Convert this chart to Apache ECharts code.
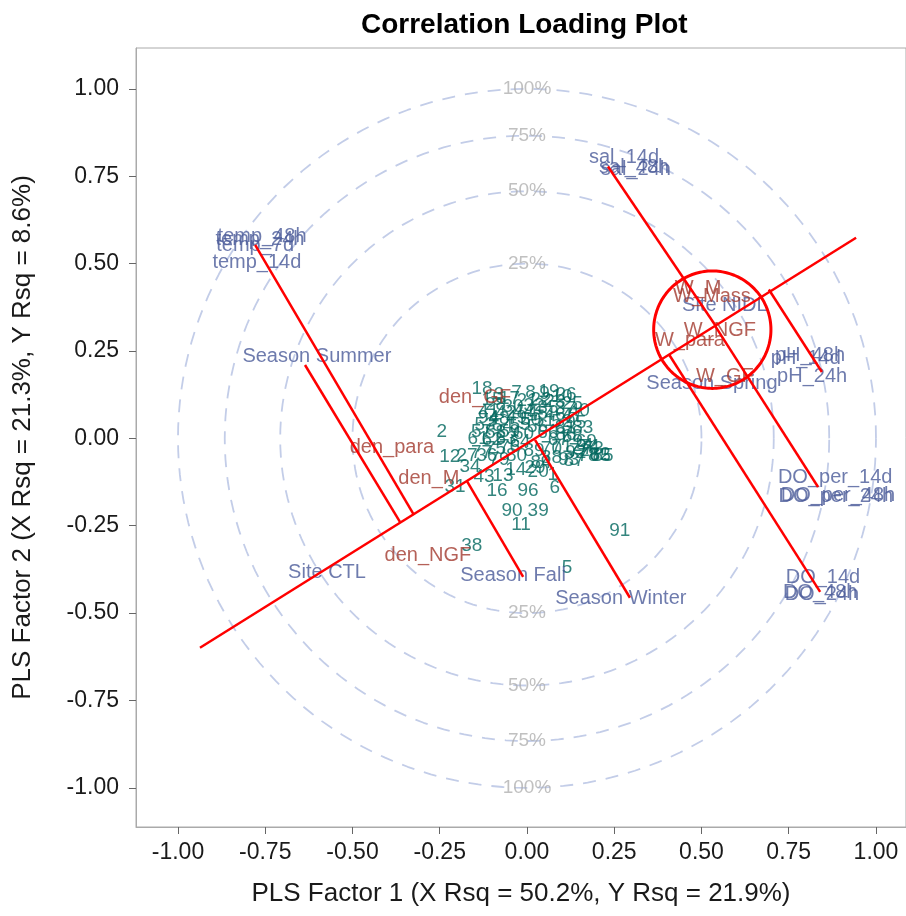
<!DOCTYPE html>
<html><head><meta charset="utf-8">
<script src="https://cdn.jsdelivr.net/npm/echarts@6/dist/echarts.min.js"></script>
<style>html,body{margin:0;padding:0;background:#fff}#c{width:906px;height:916px}</style>
</head><body><div id="c"></div>
<script>
// ---- tick values / reference circles ----
const tickValues = [-1, -0.75, -0.5, -0.25, 0, 0.25, 0.5, 0.75, 1];
const circlePct = [25, 50, 75, 100];

// ---- X-variable loadings (blue) ----
const xVarNames = ["temp_48h","temp_24h","temp_7d","temp_14d","sal_14d","sal_48h","sal_24h",
  "pH_48h","pH_14d","pH_24h","DO_per_14d","DO_per_48h","DO_per_24h","DO_14d","DO_48h","DO_24h",
  "Site NIDL","Season Spring","Season Summer","Site CTL","Season Fall","Season Winter"];
const xVarX = [-0.759,-0.765,-0.779,-0.774,0.278,0.307,0.312,
  0.811,0.799,0.817,0.883,0.891,0.885,0.848,0.840,0.845,
  0.567,0.530,-0.602,-0.573,-0.040,0.269];
const xVarY = [0.577,0.568,0.551,0.502,0.805,0.774,0.768,
  0.236,0.230,0.176,-0.113,-0.162,-0.167,-0.399,-0.442,-0.448,
  0.379,0.156,0.233,-0.385,-0.391,-0.459];

// ---- Y-variable loadings (red) ----
const yVarNames = ["den_GF","den_para","den_M","den_NGF","W_M","W_Mass","W_NGF","W_para","W_GF"];
const yVarX = [-0.149,-0.387,-0.281,-0.284,0.490,0.530,0.553,0.467,0.567];
const yVarY = [0.116,-0.027,-0.116,-0.336,0.428,0.405,0.310,0.279,0.176];

// ---- observations (green) ----
const obsNames = ["18","19","26","2","12","27","36","34","31","43","13","14","29","20","16","96","6","1",
  "90","39","11","91","38","5","86","74","82","85","87","78","24","92",
  "3","7","8","9","10","15","17","21","22","23","25","28","30","32","35","37","40",
  "41","42","44","45","46","47","48","49","50","51","52","53","54","55","56",
  "57","58","59","60","61","62","63","64","65","66","67","68","69","70","71","72","73",
  "75","76","77","79","80","81","83","84","88","89","93","94","95"];
const obsX = [-0.129,0.063,0.112,-0.244,-0.221,-0.172,-0.115,-0.163,-0.206,-0.123,-0.069,-0.032,0.023,0.032,-0.086,0.003,0.080,0.074,
  -0.043,0.032,-0.017,0.266,-0.158,0.115,0.112,0.178,0.209,0.218,0.135,0.175,0.160,0.140,
  -0.08,-0.03,0.01,0.05,0.10,-0.10,-0.05,0.00,0.04,0.08,0.13,-0.09,-0.04,0.02,0.06,0.11,0.15,
  -0.11,-0.06,-0.01,0.03,0.08,0.13,-0.08,-0.03,0.01,0.05,0.10,-0.12,-0.07,-0.02,0.03,
  -0.13,-0.09,-0.05,-0.01,-0.14,-0.10,-0.06,-0.02,0.21,0.06,0.09,0.13,0.17,0.07,0.10,0.15,0.19,
  -0.09,-0.05,-0.13,-0.08,-0.03,0.11,0.16,0.04,0.07,0.02,0.12,-0.11,0.14];
const obsY = [0.142,0.133,0.124,0.019,-0.053,-0.050,-0.050,-0.082,-0.139,-0.110,-0.107,-0.090,-0.084,-0.096,-0.150,-0.150,-0.142,-0.104,
  -0.207,-0.207,-0.247,-0.265,-0.308,-0.371,0.010,-0.024,-0.047,-0.050,-0.064,-0.050,-0.020,-0.040,
  0.125,0.130,0.130,0.128,0.120,0.110,0.112,0.108,0.110,0.105,0.100,0.095,0.090,0.092,0.088,0.085,0.080,
  0.075,0.072,0.075,0.070,0.068,0.065,0.055,0.058,0.052,0.050,0.048,0.040,0.035,0.038,0.032,
  0.020,0.015,0.018,0.012,0.000,-0.005,0.000,-0.010,-0.050,0.015,-0.005,0.005,-0.010,-0.030,-0.025,-0.035,-0.030,
  -0.030,-0.025,-0.040,-0.060,-0.050,0.030,0.030,-0.070,-0.055,-0.035,-0.060,0.060,0.045];

// ---- red annotation segments (start x, start y, end x, end y) ----
const segX1 = [-0.937,-0.779,-0.636,-0.172,0.023,0.232,0.845,0.834,0.840];
const segY1 = [-0.599,0.554,0.210,-0.122,-0.004,0.778,0.190,-0.139,-0.439];
const segX2 = [0.943,-0.324,-0.364,-0.011,0.295,0.540,0.693,0.539,0.407];
const segY2 = [0.574,-0.219,-0.239,-0.396,-0.456,0.323,0.426,0.322,0.240];
// red highlight circle
const hiCircle = {cx: 0.531, cy: 0.311, r: 0.168};

const FONT = "'Liberation Sans', Arial, sans-serif";
function circlePts(cx, cy, r) {
  const pts = [];
  for (let a = 0; a <= 360; a += 2) {
    const t = a * Math.PI / 180;
    pts.push([cx + r * Math.cos(t), cy + r * Math.sin(t)]);
  }
  return pts;
}
function labelSeries(names, xs, ys, color, size) {
  return {
    type: 'scatter', symbolSize: 0, silent: true, z: 5,
    data: names.map((n, i) => ({name: n, value: [xs[i], ys[i]]})),
    label: {show: true, position: 'inside', formatter: p => p.name,
      color: color, fontSize: size, fontFamily: FONT}
  };
}
const series = [];
circlePct.forEach(p => {
  const r = Math.sqrt(p / 100);
  series.push({type: 'line', silent: true, symbol: 'none', z: 1,
    data: circlePts(0, 0, r),
    lineStyle: {color: '#c3cde8', width: 1.8, type: [13, 10]}});
});
series.push({type: 'scatter', symbolSize: 0, silent: true, z: 2,
  data: circlePct.flatMap(p => [{name: p + '%', value: [0, Math.sqrt(p / 100)]},
                                 {name: p + '%', value: [0, -Math.sqrt(p / 100)]}]),
  label: {show: true, position: 'inside', formatter: q => q.name, color: '#b0b0b0', fontSize: 19, fontFamily: FONT}});
series.push(labelSeries(obsNames, obsX, obsY, '#01665E', 19));
series.push(labelSeries(xVarNames, xVarX, xVarY, '#4a5a98', 20));
series.push(labelSeries(yVarNames, yVarX, yVarY, '#A23A2E', 20));
segX1.forEach((_, i) => {
  series.push({type: 'line', silent: true, symbol: 'none', z: 10,
    data: [[segX1[i], segY1[i]], [segX2[i], segY2[i]]],
    lineStyle: {color: '#ff0000', width: 2.5}});
});
series.push({type: 'line', silent: true, symbol: 'none', z: 10,
  data: circlePts(hiCircle.cx, hiCircle.cy, hiCircle.r),
  lineStyle: {color: '#ff0000', width: 3}});

const axisCommon = {
  type: 'value', splitLine: {show: false},
  axisLine: {show: true, onZero: false, lineStyle: {color: '#aaaaaa'}},
  axisTick: {show: true, customValues: tickValues, length: 7, lineStyle: {color: '#666'}},
  axisLabel: {customValues: tickValues, formatter: v => v.toFixed(2), fontSize: 23, color: '#1a1a1a', fontFamily: FONT},
  nameLocation: 'middle',
  nameTextStyle: {fontSize: 26, color: '#1a1a1a', fontFamily: FONT}
};
const option = {
  animation: false,
  backgroundColor: '#fff',
  title: {text: 'Correlation Loading Plot', left: 356, top: 6,
    textStyle: {fontSize: 28, fontWeight: 'bold', color: '#000', fontFamily: FONT}},
  grid: {left: 136, top: 48, right: 0, bottom: 89, show: true, borderColor: '#aaaaaa', borderWidth: 1},
  xAxis: Object.assign({}, axisCommon, {min: -1.1203, max: 1.086, name: 'PLS Factor 1 (X Rsq = 50.2%, Y Rsq = 21.9%)', nameGap: 54,
    axisLabel: Object.assign({}, axisCommon.axisLabel, {margin: 14})}),
  yAxis: Object.assign({}, axisCommon, {min: -1.112, max: 1.117, name: 'PLS Factor 2 (X Rsq = 21.3%, Y Rsq = 8.6%)', nameGap: 100,
    axisLabel: Object.assign({}, axisCommon.axisLabel, {margin: 17})}),
  series: series
};
const chart = echarts.init(document.getElementById('c'), null, {renderer: 'canvas'});
chart.setOption(option);
</script></body></html>
